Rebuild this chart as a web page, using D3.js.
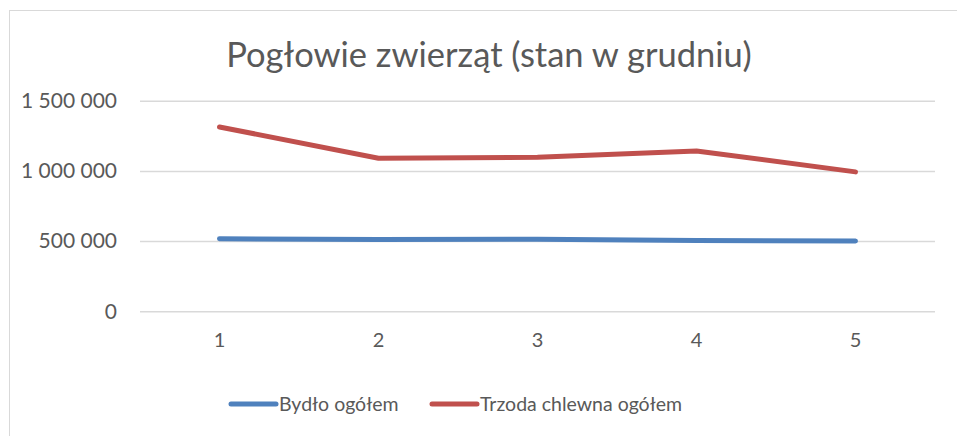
<!DOCTYPE html>
<html><head><meta charset="utf-8">
<script src="https://cdn.jsdelivr.net/npm/d3@7"></script>
<style>body{margin:0;background:#fff}svg{display:block}text{font-family:Lato,"Open Sans",sans-serif;fill:#595959}</style>
</head><body><svg id="c" width="957" height="436"></svg>
<script>
const categories = ["1","2","3","4","5"];
const bydlo = [516000, 511000, 514000, 504000, 500000];
const trzoda = [1313000, 1090000, 1097000, 1142000, 993000];
const yTicks = [0, 500000, 1000000, 1500000];
const seriesNames = ["Bydło ogółem", "Trzoda chlewna ogółem"];
const seriesColors = ["#4f81bd", "#c0504d"];
const title = "Pogłowie zwierząt (stan w grudniu)";

const svg = d3.select("#c");
svg.append("rect").attr("x",9.5).attr("y",10.5).attr("width",980).attr("height",460)
  .attr("fill","none").attr("stroke","#d9d9d9").attr("stroke-width",1);

const plot = {l:140, r:935, t:100.7, b:311.3};
const x = d3.scaleBand().domain(categories).range([plot.l, plot.r]);
const y = d3.scaleLinear().domain([0,1500000]).range([plot.b, plot.t]);
const fmt = v => d3.format(",")(v).replace(/,/g, " ");

const yAxis = svg.append("g").attr("transform",`translate(${plot.l},0)`)
  .call(d3.axisLeft(y).tickValues(yTicks).tickSize(-(plot.r-plot.l)).tickPadding(23).tickFormat(fmt));
yAxis.select(".domain").remove();
yAxis.selectAll(".tick line").attr("stroke","#d9d9d9").attr("stroke-width",1.5);
yAxis.selectAll(".tick text").style("font-size","21px").attr("fill","#595959");

const xAxis = svg.append("g").attr("transform",`translate(0,${plot.b})`)
  .call(d3.axisBottom(x).tickSize(0).tickPadding(22));
xAxis.select(".domain").remove();
xAxis.selectAll(".tick text").style("font-size","20px").attr("fill","#595959");

const line = d3.line().x((d,i)=>x(categories[i])+x.bandwidth()/2).y(d=>y(d));
[bydlo, trzoda].forEach((s,k)=>{
  svg.append("path").datum(s).attr("d",line).attr("fill","none")
    .attr("stroke",seriesColors[k]).attr("stroke-width",5)
    .attr("stroke-linecap","round").attr("stroke-linejoin","round");
});

svg.append("text").attr("x",489).attr("y",67).attr("text-anchor","middle")
  .style("font-size","34.5px").text(title);

const legX = [229, 430];
seriesNames.forEach((n,k)=>{
  const g = svg.append("g").attr("transform",`translate(${legX[k]},404)`);
  g.append("line").attr("x1",2).attr("x2",47).attr("y1",0).attr("y2",0)
    .attr("stroke",seriesColors[k]).attr("stroke-width",5).attr("stroke-linecap","round");
  g.append("text").attr("x",50).attr("y",7).style("font-size","19.5px").text(n);
});
</script></body></html>
